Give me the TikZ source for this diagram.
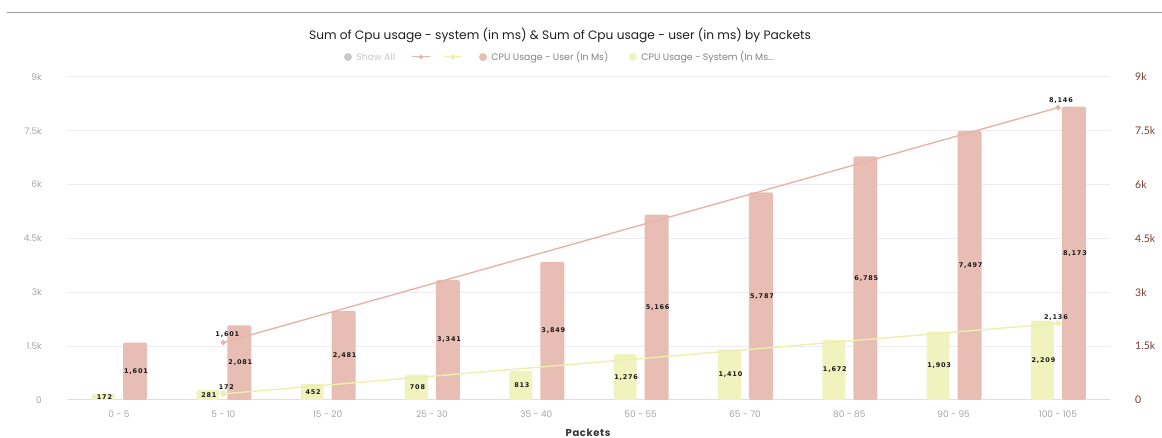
\documentclass[tikz,border=0pt]{standalone}
\usepackage{fontspec}
\setmainfont{Poppins}
\newfontfamily\valfont[LetterSpace=12]{DejaVu Sans}
\newfontfamily\rightfont{Lato}
\newfontfamily\packfont[LetterSpace=6]{Poppins}
\usepackage{tikz}
\usetikzlibrary{shapes.geometric, positioning}
\definecolor{UserBar}{RGB}{232,190,180}
\definecolor{SysBar}{RGB}{240,243,190}
\definecolor{UserLine}{RGB}{232,180,168}
\definecolor{SysLine}{RGB}{236,240,172}
\definecolor{GridGray}{RGB}{236,236,242}
\definecolor{BaseGray}{RGB}{222,222,232}
\definecolor{AxisGray}{RGB}{165,165,165}
\definecolor{RightAxis}{RGB}{122,58,48}
\definecolor{TopRule}{RGB}{155,155,155}
\definecolor{LegendGray}{RGB}{130,130,130}
\definecolor{ShowAllGray}{RGB}{200,200,200}
\newcommand{\numfmt}[1]{\pgfmathprintnumber[1000 sep={,},assume math mode=true]{#1}}

\begin{document}
\begin{tikzpicture}[x=1pt, y=1pt,
  charttitle/.style={font=\fontsize{12.2}{14}\selectfont, text=black!88},
  legtext/.style={font=\fontsize{9.4}{11}\selectfont, text=LegendGray, anchor=west, inner sep=0pt},
  legdot/.style={circle, inner sep=0pt, minimum size=8pt},
  sysbar/.style={fill=SysBar, rounded corners=2pt},
  userbar/.style={fill=UserBar, rounded corners=2pt},
  vallabel/.style={font=\valfont\bfseries\fontsize{6.5}{7.5}\selectfont, inner sep=0pt, text=black!90},
  lefttick/.style={font=\fontsize{9}{10}\selectfont, text=AxisGray, anchor=east, inner sep=0pt},
  righttick/.style={font=\rightfont\fontsize{10.5}{12}\selectfont, text=RightAxis, anchor=west, inner sep=0pt},
  catlabel/.style={font=\fontsize{9}{10}\selectfont, text=AxisGray, inner sep=0pt},
  userline/.style={draw=UserLine, line width=1.4pt},
  sysline/.style={draw=SysLine, line width=1.4pt},
  umark/.style={diamond, fill=UserLine, inner sep=0pt, minimum size=6pt},
  smark/.style={circle, fill=SysLine, inner sep=0pt, minimum size=6pt},
]
\useasboundingbox (0,0) rectangle (1162,438);
%% Top rule
\coordinate (ruleL) at (7,425.5);
\coordinate (ruleR) at (1162,425.5);
\draw[TopRule, line width=1.5pt] (ruleL) -- (ruleR);
%% Title
\node[charttitle] (title) at (560,403)
  {Sum of Cpu usage - system (in ms) \& Sum of Cpu usage - user (in ms) by Packets};
%% Legend
\node[legdot, fill=ShowAllGray] (lgAll) at (348,381) {};
\node[legtext, text=ShowAllGray, right=4pt of lgAll] (lgAllT) {Show All};
\coordinate (lgUa) at (412,381);
\coordinate (lgUb) at (430,381);
\draw[userline, line width=1pt] (lgUa) -- (lgUb);
\node[umark, minimum size=5pt] (lgUm) at (421,381) {};
\coordinate (lgSa) at (444,381);
\coordinate (lgSb) at (462,381);
\draw[sysline, line width=1pt] (lgSa) -- (lgSb);
\node[smark, minimum size=5pt] (lgSm) at (453,381) {};
\node[legdot, fill=UserBar] (lgU) at (483,381) {};
\node[legtext, right=4pt of lgU] (lgUT) {CPU Usage - User (In Ms)};
\node[legdot, fill=SysBar] (lgS) at (633,381) {};
\node[legtext, right=4pt of lgS] (lgST) {CPU Usage - System (In Ms...};
%% X axis title
\node[font=\packfont\bfseries\fontsize{10}{12}\selectfont, text=black!80] (xtitle) at (588,5) {Packets};
%% Plot area
\begin{scope}[shift={(0,38)}, y=0.035889pt]
  %% Grid and ticks
  \foreach \v/\t in {0/0, 1500/1.5k, 3000/3k, 4500/4.5k, 6000/6k, 7500/7.5k, 9000/9k} {
    \draw[GridGray, line width=1pt] (67,\v) -- (1110,\v);
    \node[lefttick] (lt\v) at (42,\v) {\t};
    \node[righttick] (rt\v) at (1135,\v) {\t};
  }
  \draw[BaseGray, line width=1pt] (67,0) -- (1110,0);
  %% Bars
  \foreach \s/\u/\cat [count=\i from 0] in {172/1601/0 - 5, 281/2081/5 - 10, 452/2481/15 - 20,
      708/3341/25 - 30, 813/3849/35 - 40, 1276/5166/50 - 55, 1410/5787/65 - 70,
      1672/6785/80 - 85, 1903/7497/90 - 95, 2209/8173/100 - 105} {
    \pgfmathsetmacro{\c}{119+104.33*\i}
    \fill[sysbar] (\c-27,0) rectangle (\c-4,\s);
    \fill[userbar] (\c+4,0) rectangle (\c+28,\u);
    \node[vallabel] (sv\i) at (\c-14.5,\s/2) {\numfmt{\s}};
    \node[vallabel] (uv\i) at (\c+17,\u/2) {\numfmt{\u}};
    \node[catlabel] (cat\i) at ([yshift=-14pt]\c,0) {\cat};
  }
  %% Trend lines
  \node[umark] (uStart) at (119+104.33,1601) {};
  \node[umark] (uEnd) at (119+104.33*9,8146) {};
  \draw[userline] (uStart.center) -- (uEnd.center);
  \node[smark] (sStart) at (119+104.33,172) {};
  \node[smark] (sEnd) at (119+104.33*9,2136) {};
  \draw[sysline] (sStart.center) -- (sEnd.center);
  \node[vallabel] (uStartT) at ([xshift=4pt,yshift=8pt]uStart.center) {1,601};
  \node[vallabel] (uEndT) at ([xshift=3pt,yshift=7pt]uEnd.center) {8,146};
  \node[vallabel] (sStartT) at ([xshift=3pt,yshift=7pt]sStart.center) {172};
  \node[vallabel] (sEndT) at ([xshift=-2pt,yshift=6pt]sEnd.center) {2,136};
\end{scope}
\end{tikzpicture}
\end{document}
